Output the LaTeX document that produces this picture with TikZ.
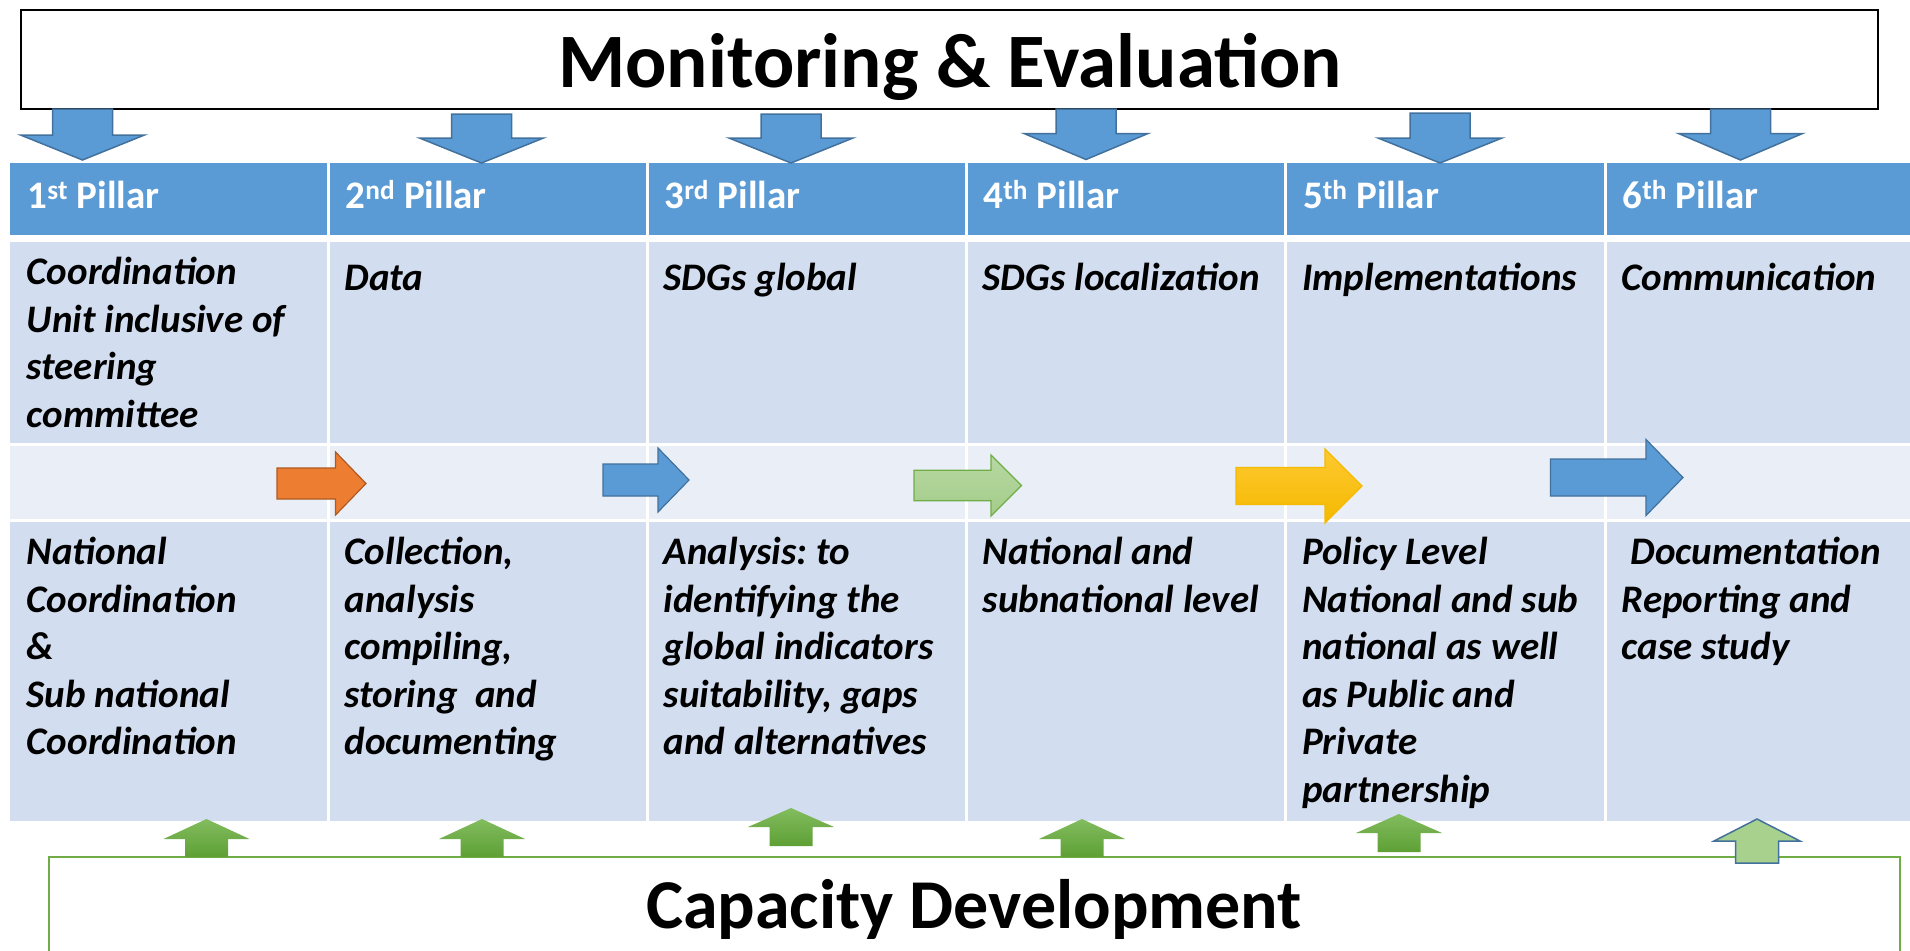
\documentclass[tikz,border=0pt]{standalone}
\usepackage{fontspec}
\setmainfont{Carlito}
\frenchspacing
\definecolor{pillarblue}{HTML}{5B9BD5}
\definecolor{pillarline}{HTML}{41719C}
\definecolor{cellband}{HTML}{D2DEEF}
\definecolor{celllight}{HTML}{E9EEF7}
\definecolor{cdgreen}{HTML}{70AD47}
\definecolor{cdlight}{HTML}{A9D18E}
\definecolor{upgreentop}{HTML}{82BC5E}
\definecolor{upgreenbot}{HTML}{5EA035}
\definecolor{lgreentop}{HTML}{B7D8A3}
\definecolor{lgreenbot}{HTML}{A4CC89}
\definecolor{pilorange}{HTML}{ED7D31}
\definecolor{pilorangeline}{HTML}{AE5A21}
\definecolor{pilyellowtop}{HTML}{FFC931}
\definecolor{pilyellowbot}{HTML}{F4B900}

\begin{document}
\begin{tikzpicture}[x=1pt,y=-1pt,
    gridline/.style={white,line width=3pt},
    blkdown/.style={fill=pillarblue,draw=pillarline,line width=1.5pt},
    blkup/.style={top color=upgreentop,bottom color=upgreenbot},
    headtext/.style={anchor=base west,inner sep=0pt,text=white,font=\fontsize{39}{47.6}\selectfont\bfseries},
    celltext/.style={anchor=north west,inner sep=0pt,align=left,font=\fontsize{39}{47.6}\selectfont\bfseries\itshape,execute at begin node=\strut}]
        \clip (0,0) rectangle (1910,950);
        \fill[pillarblue] (10,163) rectangle (1910,238);
        \fill[cellband] (10,238) rectangle (1910,444.5);
        \fill[celllight] (10,444.5) rectangle (1910,520);
        \fill[cellband] (10,520) rectangle (1910,821);
        \draw[gridline,line width=6.5pt] (10,238.3) -- (1910,238.3);
        \draw[gridline] (10,444.5) -- (1910,444.5);
        \draw[gridline] (10,520) -- (1910,520);
        \foreach \xl in {328,647,966,1285.5,1605} {
          \draw[gridline] (\xl,163) -- (\xl,821);
        }
        \draw[line width=2.5pt,fill=white] (21,10) rectangle (1878,109);
        \node[font=\fontsize{77}{92}\selectfont\bfseries,anchor=base] (mande) at (950,87) {Monitoring \& Evaluation};
        \draw[cdgreen,line width=2pt,fill=white] (49,857) rectangle (1899.5,980);
        \node[font=\fontsize{70}{84}\selectfont\bfseries,anchor=base] (capdev) at (974,928) {Capacity Development};
        \foreach \cx/\tp/\hb/\tip in {82.5/109/135/160,481.5/114/138/163,791/114/138/163,1086/109/133.5/159.5,1440/113/138/163,1740.5/109/133.5/160} {
          \draw[blkdown] (\cx-30,\tp) -- (\cx+30,\tp) -- (\cx+30,\hb) -- (\cx+62,\hb) -- (\cx,\tip) -- (\cx-62,\hb) -- (\cx-30,\hb) -- cycle;
        }
        \foreach \xs/\xh/\xt/\ym/\sh/\hh/\ct/\cb/\cl in {277/335.5/366/483.5/15.5/31.5/pilorange/pilorange/pilorangeline,
            603/658/689/480/16/32/pillarblue/pillarblue/pillarline,
            914/991/1021.5/485.5/15.3/30.5/lgreentop/lgreenbot/cdgreen,
            1236/1325/1362/486/18.5/37/pilyellowtop/pilyellowbot/pilyellowbot,
            1550.5/1646/1683/477.5/18.5/38/pillarblue/pillarblue/pillarline} {
          \path[top color=\ct,bottom color=\cb,draw=\cl,line width=1.2pt] (\xs,\ym-\sh) -- (\xh,\ym-\sh) -- (\xh,\ym-\hh) -- (\xt,\ym) -- (\xh,\ym+\hh) -- (\xh,\ym+\sh) -- (\xs,\ym+\sh) -- cycle;
        }
        \foreach \cx/\tp/\hb/\bt in {206.5/819/839/857,482/819/839/857,791/808/827/846,1082/819/839/857,1399/814/833/852} {
          \path[blkup] (\cx-21.5,\bt) -- (\cx-21.5,\hb) -- (\cx-43,\hb) -- (\cx,\tp) -- (\cx+43,\hb) -- (\cx+21.5,\hb) -- (\cx+21.5,\bt) -- cycle;
        }
        \draw[fill=cdlight,draw=pillarline,line width=1.5pt] (1735.5,863) -- (1735.5,841) -- (1714,841) -- (1757,819) -- (1800,841) -- (1778.5,841) -- (1778.5,863) -- cycle;
        \foreach \n/\xl/\ord in {1/27.5/st,2/345.5/nd,3/664.5/rd,4/983.5/th,5/1303/th,6/1622.5/th} {
          \node[headtext] (hd\n) at (\xl,208.5) {\n\textsuperscript{\ord} Pillar};
        }
        \node[celltext] (top1) at (26.5,257) {Coordination\\Unit inclusive of\\steering\\committee};
        \node[celltext] (top2) at (344.5,257) {Data};
        \node[celltext] (top3) at (663.5,257) {SDGs global};
        \node[celltext] (top4) at (982.5,257) {SDGs localization};
        \node[celltext] (top5) at (1302,257) {Implementations};
        \node[celltext] (top6) at (1621.5,257) {Communication};
        \node[celltext] (bot1) at (26.5,537) {National\\Coordination\\\&\\Sub national\\Coordination};
        \node[celltext] (bot2) at (344.5,537) {Collection,\\analysis\\compiling,\\storing\ \ and\\documenting};
        \node[celltext] (bot3) at (663.5,537) {Analysis: to\\identifying the\\global indicators\\suitability, gaps\\and alternatives};
        \node[celltext] (bot4) at (982.5,537) {National and\\subnational level};
        \node[celltext] (bot5) at (1302,537) {Policy Level\\National and sub\\national as well\\as Public and\\Private\\partnership};
        \node[celltext] (bot6) at (1621.5,537) {\hspace*{.23em}Documentation\\Reporting and\\case study};
      \end{tikzpicture}
\end{document}
